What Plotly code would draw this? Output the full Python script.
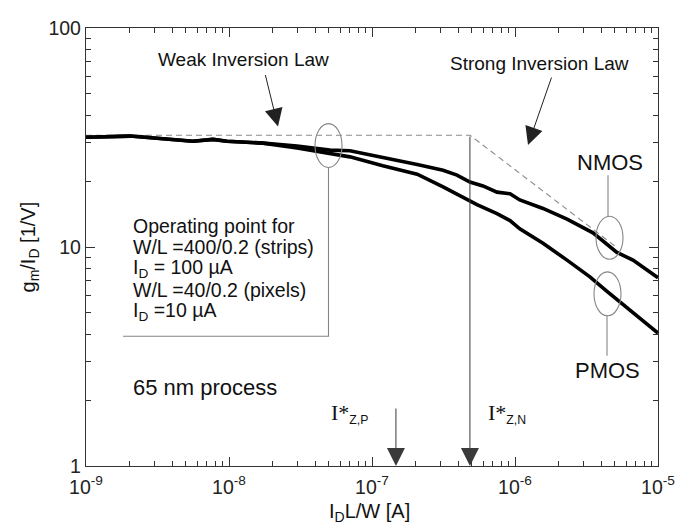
import math
import plotly.graph_objects as go

# ---------------- data ----------------
nmos_x = [1.00e-9, 2.03e-9, 5.60e-9, 7.73e-9, 9.68e-9, 1.73e-8, 2.99e-8, 5.08e-8,
          7.01e-8, 9.68e-8, 1.34e-7, 2.07e-7, 3.14e-7, 3.93e-7, 4.84e-7, 5.97e-7,
          7.48e-7, 9.23e-7, 1.08e-6, 1.57e-6, 2.31e-6, 3.51e-6, 5.16e-6, 6.68e-6, 1.00e-5]
nmos_y = [31.7, 32.1, 30.4, 31.0, 30.4, 29.8, 28.9, 27.7,
          27.5, 26.4, 25.1, 23.8, 22.4, 21.3, 19.8, 19.0,
          17.8, 17.5, 16.4, 15.0, 13.4, 11.6, 9.45, 8.71, 7.24]

pmos_x = [1.00e-9, 2.03e-9, 5.60e-9, 7.73e-9, 9.68e-9, 1.73e-8, 2.99e-8, 5.08e-8,
          7.01e-8, 1.19e-7, 2.07e-7, 3.14e-7, 4.33e-7, 5.42e-7, 7.48e-7, 9.23e-7,
          1.08e-6, 1.57e-6, 2.31e-6, 3.34e-6, 4.40e-6, 5.69e-6, 7.48e-6, 1.00e-5]
pmos_y = [31.7, 32.1, 30.4, 31.0, 30.4, 29.8, 28.3, 26.6,
          25.8, 23.5, 21.5, 18.8, 16.9, 15.6, 14.2, 13.2,
          12.1, 10.4, 8.71, 7.31, 6.27, 5.48, 4.71, 4.04]

# asymptotic laws (weak inversion plateau, strong inversion slope)
law_x = [1.0e-9, 4.84e-7, 5.0e-6]
law_y = [32.4, 32.4, 10.1]

# characteristic currents I*_Z
istar_p = 1.47e-7
istar_n = 4.84e-7

x_tickvals = [1e-9, 1e-8, 1e-7, 1e-6, 1e-5]
x_ticktext = ["10<sup>-9</sup>", "10<sup>-8</sup>", "10<sup>-7</sup>", "10<sup>-6</sup>", "10<sup>-5</sup>"]
y_tickvals = [1, 10, 100]
y_ticktext = ["1", "10", "100"]

op_lines = ["Operating point for",
            "W/L =400/0.2 (strips)",
            "I<sub>D</sub> = 100 \u00b5A",
            "W/L =40/0.2 (pixels)",
            "I<sub>D</sub> =10 \u00b5A"]

# ---------------- layout geometry ----------------
OFF = 8                       # default page (body) margin of the written html
W, H = 692 - OFF, 532 - OFF
L, R, T, B = 86 - OFF, 34, 17 - OFF, 66
PW, PH = W - L - R, H - T - B


def dx(px):  # window pixel -> x domain fraction
    return (px - OFF - L) / PW


def dy(py):  # window pixel -> y domain fraction
    return (H - B - (py - OFF)) / PH


FONT = "Liberation Sans, Arial, Helvetica, sans-serif"
GRAY = "#858585"

fig = go.Figure()
fig.add_trace(go.Scatter(x=law_x, y=law_y, mode="lines",
                         line=dict(color="#8a8a8a", width=1.1, dash="6px,4px"),
                         showlegend=False, hoverinfo="skip"))
fig.add_trace(go.Scatter(x=pmos_x, y=pmos_y, mode="lines", name="PMOS",
                         line=dict(color="black", width=3.6), showlegend=False))
fig.add_trace(go.Scatter(x=nmos_x, y=nmos_y, mode="lines", name="NMOS",
                         line=dict(color="black", width=3.6), showlegend=False))

minor_x = [m * 10 ** e for e in range(-9, -5) for m in range(2, 10)]
minor_y = [m * 10 ** e for e in range(0, 2) for m in range(2, 10)]

axis_common = dict(showgrid=False, zeroline=False, showline=True, linecolor="#333",
                   linewidth=1.3, mirror="allticks", ticks="inside", ticklen=9,
                   tickwidth=1.1, tickcolor="#333", ticklabeloverflow="allow",
                   tickfont=dict(family=FONT, size=19.5, color="#222"))

fig.update_xaxes(type="log", range=[-9, -5], tickmode="array", tickvals=x_tickvals,
                 ticktext=x_ticktext, ticklabelstandoff=3,
                 minor=dict(tickmode="array", tickvals=minor_x, ticks="inside",
                            ticklen=5, tickcolor="#333", tickwidth=1, showgrid=False),
                 **axis_common)
fig.update_yaxes(type="log", range=[0, 2], tickmode="array", tickvals=y_tickvals,
                 ticktext=y_ticktext,
                 minor=dict(tickmode="array", tickvals=minor_y, ticks="inside",
                            ticklen=5, tickcolor="#333", tickwidth=1, showgrid=False),
                 **axis_common)

shapes = []
# callout ellipses
for (x0, x1, y0, y1) in [(315, 342, 115, 160), (596, 623, 210, 254), (594, 621, 267, 312)]:
    shapes.append(dict(type="circle", xref="x domain", yref="y domain",
                       x0=dx(x0), x1=dx(x1), y0=dy(y1), y1=dy(y0),
                       line=dict(color=GRAY, width=1.1)))
# callout lines
shapes.append(dict(type="path", xref="paper", yref="paper",
                   path="M {},{} L {},{} L {},{}".format(dx(328.5), dy(160), dx(328.5), dy(333),
                                                       dx(123), dy(333)),
                   line=dict(color=GRAY, width=1.1)))
shapes.append(dict(type="line", xref="x domain", yref="y domain",
                   x0=dx(608), x1=dx(608), y0=dy(168), y1=dy(210),
                   line=dict(color=GRAY, width=1.1)))
shapes.append(dict(type="line", xref="x domain", yref="y domain",
                   x0=dx(607), x1=dx(607), y0=dy(312), y1=dy(353),
                   line=dict(color=GRAY, width=1.1)))
fig.update_layout(shapes=shapes)

ann = []


def txt(text, px, py, size=19, xanchor="center"):
    ann.append(dict(text=text, xref="x domain", yref="y domain", x=dx(px), y=dy(py),
                    xanchor=xanchor, yanchor="middle", showarrow=False,
                    font=dict(family=FONT, size=size, color="#111")))


txt("Weak Inversion Law", 243, 49, size=19)
txt("Strong Inversion Law", 539, 53, size=19)
txt("NMOS", 610, 155, size=22)
txt("PMOS", 607, 368, size=22)
for i, line in enumerate(op_lines):
    txt(line, 131, 220 + 22 * i, size=19.5, xanchor="left")
txt("65 nm process", 131, 386, size=22, xanchor="left")
txt('<span style="font-family:Liberation Serif;font-size:22px">I*</span><sub>Z,P</sub>',
    329, 412, size=17.5, xanchor="left")
txt('<span style="font-family:Liberation Serif;font-size:22px">I*</span><sub>Z,N</sub>',
    486, 412, size=17.5, xanchor="left")

# axis titles
ann.append(dict(text="I<sub>D</sub>L/W [A]", xref="x domain", yref="y domain",
                x=dx(369), y=dy(514), showarrow=False, xanchor="center", yanchor="middle",
                font=dict(family=FONT, size=20, color="#111")))
ann.append(dict(text="g<sub>m</sub>/I<sub>D</sub> [1/V]", xref="x domain", yref="y domain",
                x=dx(29), y=dy(242), showarrow=False, textangle=-90, xanchor="center",
                yanchor="middle", font=dict(family=FONT, size=20, color="#111")))

# law arrows
ann.append(dict(x=dx(278), y=dy(118), xref="x domain", yref="y domain", ax=-13, ay=-53,
                showarrow=True, arrowhead=2, arrowsize=3.6, arrowwidth=1, arrowcolor="#222",
                text=""))
ann.append(dict(x=dx(528), y=dy(137), xref="x domain", yref="y domain", ax=24, ay=-69,
                showarrow=True, arrowhead=2, arrowsize=3.6, arrowwidth=1, arrowcolor="#222",
                text=""))
# I*_Z arrows (positioned on the data axes)
ann.append(dict(x=math.log10(istar_n), y=0, xref="x", yref="y",
                ax=math.log10(istar_n), ay=math.log10(law_y[1]), axref="x", ayref="y",
                showarrow=True, arrowhead=2, arrowsize=3.6, arrowwidth=1, arrowcolor="#3a3a3a",
                text=""))
ann.append(dict(x=math.log10(istar_p), y=0, xref="x", yref="y", ax=0, ay=-59,
                showarrow=True, arrowhead=2, arrowsize=3.6, arrowwidth=1, arrowcolor="#3a3a3a",
                text=""))
fig.update_layout(annotations=ann)

fig.update_layout(width=W, height=H, margin=dict(l=L, r=R, t=T, b=B),
                  paper_bgcolor="white", plot_bgcolor="white",
                  font=dict(family=FONT, size=18, color="#111"), showlegend=False)

fig.write_html("out.html")
